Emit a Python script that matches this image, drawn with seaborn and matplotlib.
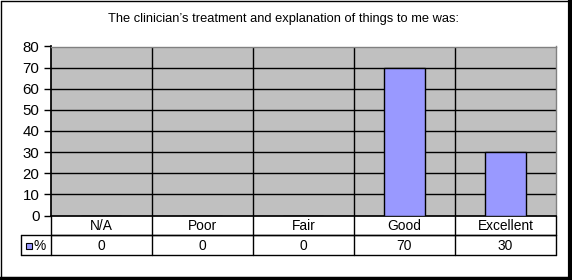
import matplotlib
matplotlib.use("Agg")
import matplotlib.pyplot as plt
import seaborn as sns
import pandas as pd
from matplotlib.lines import Line2D
from matplotlib.patches import Rectangle

categories = ["N/A", "Poor", "Fair", "Good", "Excellent"]
values = [0, 0, 0, 70, 30]
series_name = "%"
title = "The clinician\u2019s treatment and explanation of things to me was:"
yticks = [0, 10, 20, 30, 40, 50, 60, 70, 80]

sns.set_theme(style="white")
plt.rcParams['font.family'] = ['Liberation Sans', 'DejaVu Sans']

W, H = 572, 280
fig = plt.figure(figsize=(W / 100, H / 100), dpi=100)
fig.patch.set_facecolor("white")

L, R, T, B = 50.5, 556, 46.5, 215.5
ax = fig.add_axes([L / W, 1 - B / H, (R - L) / W, (B - T) / H])
ax.set_facecolor("#C0C0C0")

df = pd.DataFrame({"cat": categories, "val": values})
sns.barplot(data=df, x="cat", y="val", color="#9999FF", edgecolor="black",
            linewidth=1.0, width=0.4, saturation=1, ax=ax, zorder=3)

ax.set_ylim(0, 80)
ax.set_xlim(-0.5, len(categories) - 0.5)
ax.set_yticks(yticks)
ax.set_yticklabels([str(v) for v in yticks], fontsize=10.8, color="black")
for v in yticks[1:]:
    ax.axhline(v, color="black", lw=1.0, zorder=1)
for i in range(1, len(categories)):
    ax.axvline(i - 0.5, color="black", lw=1.0, zorder=1)
ax.set_xticks([])
ax.set_xlabel("")
ax.set_ylabel("")
ax.tick_params(axis="y", direction="out", length=5, width=1, color="black", pad=3, left=True)
for s in ["top", "right"]:
    ax.spines[s].set_color("#808080")
    ax.spines[s].set_linewidth(1.0)
ax.spines["left"].set_color("black")
ax.spines["bottom"].set_color("black")
for s in ax.spines.values():
    s.set_visible(True)

fig.text(283 / W, 1 - 19 / H, title, ha="center", va="center", fontsize=9.3, color="black")

# data table below the axes
def fx(x):
    return x / W

def fy(y):
    return 1 - y / H

row1_top, row1_bot, row2_bot = 215.5, 235, 255
leg_left = 20.5
cw = (R - L) / len(categories)
lines = []
lines.append(((L, L), (row1_top, row2_bot)))
lines.append(((R, R), (row1_top, row2_bot)))
for i in range(1, len(categories)):
    x = L + i * cw
    lines.append(((x, x), (row1_top, row2_bot)))
lines.append(((L, R), (row1_bot, row1_bot)))
lines.append(((leg_left, R), (row1_bot, row1_bot)))
lines.append(((leg_left, R), (row2_bot, row2_bot)))
lines.append(((leg_left, leg_left), (row1_bot, row2_bot)))
for (xs, ys) in lines:
    fig.add_artist(Line2D([fx(xs[0]), fx(xs[1])], [fy(ys[0]), fy(ys[1])],
                          color="black", lw=1.0))

for i, (c, v) in enumerate(zip(categories, values)):
    cx = L + (i + 0.5) * cw
    fig.text(fx(cx), fy((row1_top + row1_bot) / 2 + 0.5), c, ha="center", va="center",
             fontsize=9.9, color="black")
    fig.text(fx(cx), fy((row1_bot + row2_bot) / 2 + 0.5), str(v), ha="center", va="center",
             fontsize=9.9, color="black")

fig.add_artist(Rectangle((fx(25.5), fy(248.5)), 6 / W, 6 / H, facecolor="#9999FF",
                         edgecolor="black", lw=0.8))
fig.text(fx(34), fy((row1_bot + row2_bot) / 2 + 0.5), series_name, ha="left", va="center",
         fontsize=9.9, color="black")

# outer frame with shadow
fig.add_artist(Line2D([fx(0.5), fx(568)], [fy(0.5), fy(0.5)], color="black", lw=1))
fig.add_artist(Line2D([fx(0.5), fx(0.5)], [fy(0.5), fy(276.5)], color="black", lw=1))
fig.add_artist(Line2D([fx(570), fx(570)], [fy(0), fy(279)], color="black", lw=3))
fig.add_artist(Line2D([fx(0), fx(571.5)], [fy(277.7), fy(277.7)], color="black", lw=2.5))

fig.savefig("out.png", dpi=100, facecolor="white")
